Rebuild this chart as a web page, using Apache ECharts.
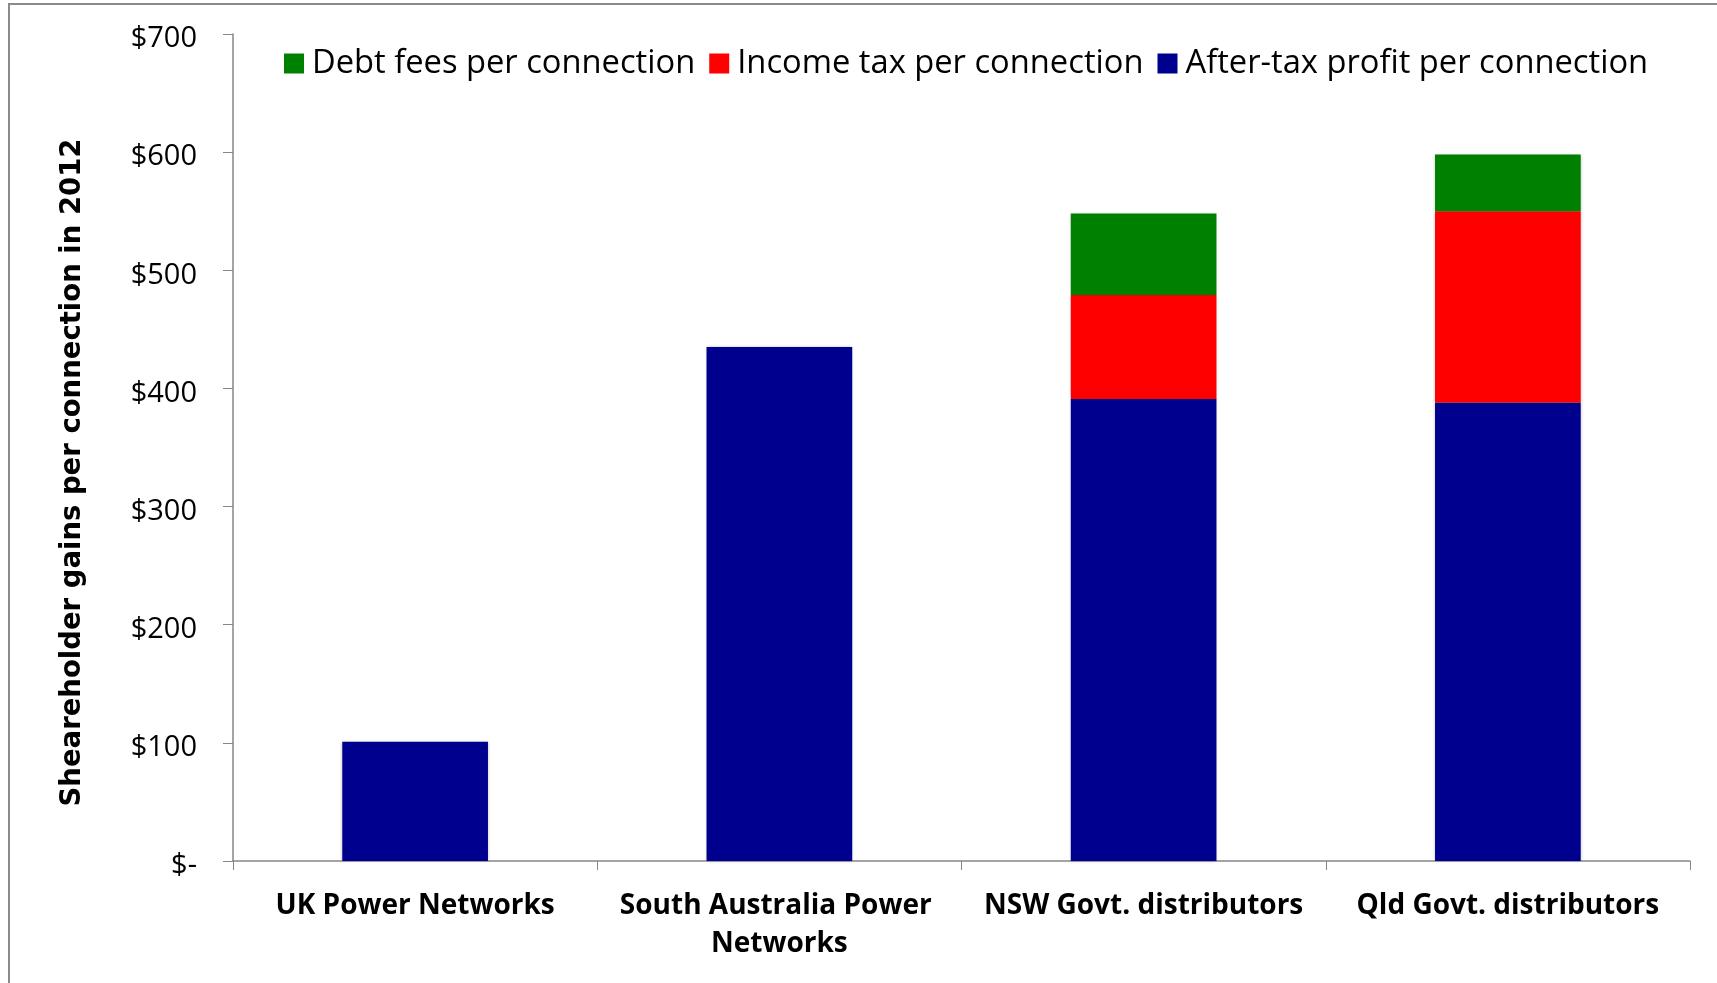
<!DOCTYPE html>
<html>
<head>
<meta charset="utf-8">
<script src="https://cdn.jsdelivr.net/npm/echarts@6/dist/echarts.min.js"></script>
<style>
  html, body { margin:0; padding:0; background:#fff; }
  #chart { width:1717px; height:983px; }
</style>
</head>
<body>
<div id="chart"></div>
<script>
const categories = ["UK Power Networks", "South Australia Power Networks", "NSW Govt. distributors", "Qld Govt. distributors"];
const afterTaxProfit = [101, 435, 391, 388];
const incomeTax = [0, 0, 88, 162];
const debtFees = [0, 0, 69, 48];
const legendNames = ["Debt fees per connection", "Income tax per connection", "After-tax profit per connection"];

const chart = echarts.init(document.getElementById("chart"));
const barStyle = c => ({ color:c, shadowBlur:3, shadowColor:"rgba(0,0,0,0.25)" });

chart.setOption({
  animation:false,
  graphic:[{
    type:"rect", shape:{ x:9, y:4, width:1740, height:1010 },
    style:{ fill:null, stroke:"#8a8a8a", lineWidth:2 }, silent:true
  }],
  legend:{
    data: legendNames,
    left:279, top:42,
    icon:"rect", itemWidth:20, itemHeight:20, itemGap:14,
    textStyle:{ fontFamily:"Open Sans", fontSize:32.7, color:"#000", padding:[0,0,0,3] }
  },
  grid:{ left:233, right:27, top:34, bottom:122 },
  xAxis:{
    type:"category", data: categories,
    axisLine:{ lineStyle:{ color:"#868686", width:1.5 } },
    axisTick:{ show:true, length:9, lineStyle:{ color:"#868686" } },
    axisLabel:{
      interval:0, margin:26, color:"#000",
      fontFamily:"Open Sans", fontWeight:"bold", fontSize:28, lineHeight:38,
      width:330, overflow:"break"
    }
  },
  yAxis:{
    type:"value", min:0, max:700, interval:100,
    name:"Sheareholder gains per connection in 2012",
    nameLocation:"middle", nameGap:146,
    nameTextStyle:{ fontFamily:"DejaVu Sans", fontWeight:"bold", fontSize:27.5, color:"#000", padding:[0,50,0,0] },
    splitLine:{ show:false },
    axisLine:{ show:true, lineStyle:{ color:"#868686", width:1.5 } },
    axisTick:{ show:true, length:10, lineStyle:{ color:"#868686" } },
    axisLabel:{
      margin:36, color:"#000",
      formatter: v => "{v|" + (v === 0 ? "$-" : "$" + v) + "}",
      rich:{ v:{ fontFamily:"Open Sans", fontSize:29, color:"#000", padding:[10,0,0,0] } }
    }
  },
  series:[
    { name:legendNames[2], type:"bar", stack:"total", data:afterTaxProfit, barWidth:"40%", itemStyle:barStyle("#00008F") },
    { name:legendNames[1], type:"bar", stack:"total", data:incomeTax, itemStyle:barStyle("#FF0000") },
    { name:legendNames[0], type:"bar", stack:"total", data:debtFees, itemStyle:barStyle("#008000") }
  ]
});
</script>
</body>
</html>
